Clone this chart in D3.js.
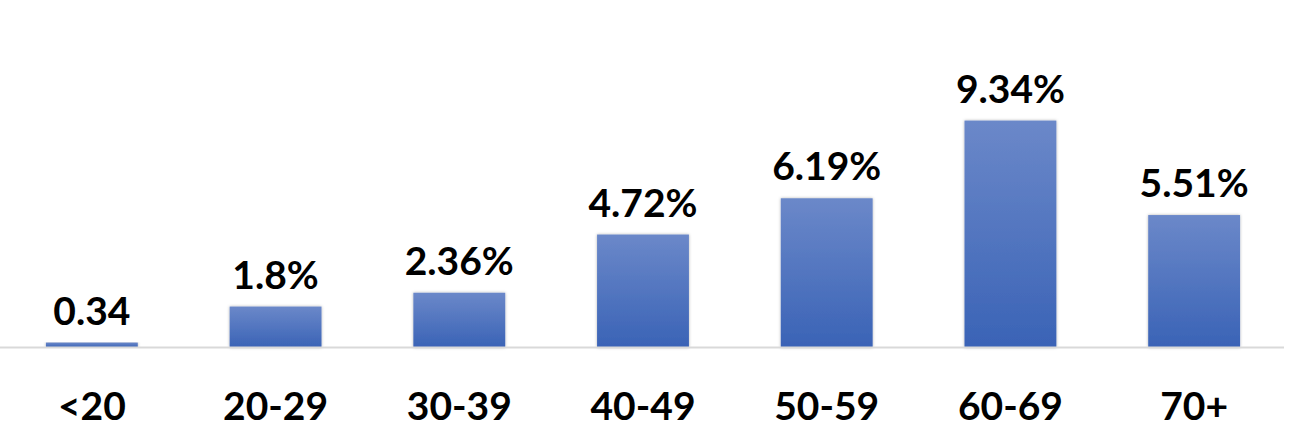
<!DOCTYPE html>
<html><head><meta charset="utf-8">
<script src="https://cdn.jsdelivr.net/npm/d3@7"></script>
<style>html,body{margin:0;padding:0;background:#fff;}svg{display:block;}</style>
</head><body>
<script>
const categories = ["<20","20-29","30-39","40-49","50-59","60-69","70+"];
const values = [0.34, 1.8, 2.36, 4.72, 6.19, 9.34, 5.51];
const valueLabels = ["0.34","1.8%","2.36%","4.72%","6.19%","9.34%","5.51%"];

const W = 1290, H = 430;
const svg = d3.select("body").append("svg").attr("width", W).attr("height", H);
const x = d3.scaleBand().domain(categories).range([0, 1286]).paddingInner(0.5).paddingOuter(0.25);
const y = d3.scaleLinear().domain([0.14, 10]).range([347.5, 104.3]);

const defs = svg.append("defs");
const g = defs.append("linearGradient").attr("id","bg").attr("x1",0).attr("y1",0).attr("x2",0).attr("y2",1);
g.append("stop").attr("offset","0%").attr("stop-color","#6b88c9");
g.append("stop").attr("offset","100%").attr("stop-color","#3a63b6");
const f = defs.append("filter").attr("id","sh").attr("x","-10%").attr("y","-10%").attr("width","120%").attr("height","120%");
f.append("feDropShadow").attr("dx",0).attr("dy",0).attr("stdDeviation",1.5).attr("flood-color","#000").attr("flood-opacity",0.3);

const data = categories.map((c,i)=>({c, v: values[i], l: valueLabels[i]}));

svg.append("g").selectAll("rect").data(data).join("rect")
  .attr("x", d=>x(d.c)).attr("width", x.bandwidth())
  .attr("y", d=>y(d.v)).attr("height", d=>y.range()[0]-y(d.v))
  .attr("fill","url(#bg)").attr("filter","url(#sh)");

svg.append("line").attr("x1",0).attr("x2",1284).attr("y1",347.5).attr("y2",347.5)
  .attr("stroke","#d9d9d9").attr("stroke-width",2);

const font = "Lato, 'Open Sans', sans-serif";
svg.append("g").selectAll("text").data(data).join("text")
  .attr("x", d=>x(d.c)+x.bandwidth()/2).attr("y", d=>y(d.v)-18)
  .attr("text-anchor","middle").attr("font-family",font).attr("font-weight","bold")
  .attr("font-size",39).attr("fill","#000").text(d=>d.l);

svg.append("g").selectAll("text").data(data).join("text")
  .attr("x", d=>x(d.c)+x.bandwidth()/2).attr("y", 420)
  .attr("text-anchor","middle").attr("font-family",font).attr("font-weight","bold")
  .attr("font-size",39).attr("fill","#000").text(d=>d.c);
</script>
</body></html>
